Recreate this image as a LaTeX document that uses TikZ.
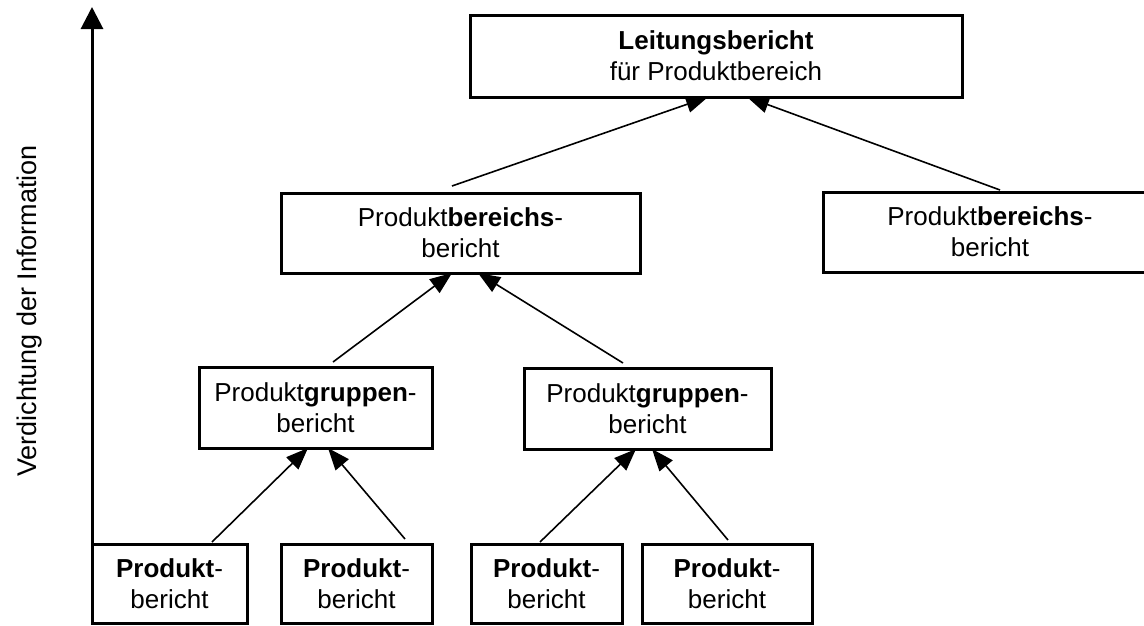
\documentclass[tikz,border=0pt]{standalone}
\usepackage{fontspec}
\setmainfont{Liberation Sans}
\usetikzlibrary{arrows.meta}
\begin{document}
\begin{tikzpicture}[x=1pt,y=-1pt,
  box/.style={draw, line width=3pt, rectangle, align=center, outer sep=0pt, inner sep=0pt,
    font=\fontsize{26}{31}\selectfont},
  conn/.style={line width=1.6pt, -{Triangle[length=22pt,width=17pt]}},
  axisarrow/.style={line width=3pt, -{Triangle[length=22pt,width=22pt]}},
  lbl/.style={rotate=90, font=\fontsize{27}{30}\selectfont}]
\useasboundingbox (0,0) rectangle (1144,625);
\clip (0,0) rectangle (1144,625);
% boxes
\node[box, minimum width=492pt, minimum height=82pt] (top) at (716,56) {\textbf{Leitungsbericht}\\für Produktbereich};
\node[box, minimum width=359pt, minimum height=80pt] (m1) at (460.5,233) {Produkt\textbf{bereichs}-\\bericht};
\node[box, minimum width=334pt, minimum height=80pt] (m2) at (990,232) {Produkt\textbf{bereichs}-\\bericht};
\node[box, minimum width=233pt, minimum height=81pt] (g1) at (315.5,407.5) {Produkt\textbf{gruppen}-\\bericht};
\node[box, minimum width=247pt, minimum height=81pt] (g2) at (647.5,408.5) {Produkt\textbf{gruppen}-\\bericht};
\node[box, minimum width=155pt, minimum height=79pt] (p1) at (169.5,583.5) {\textbf{Produkt}-\\bericht};
\node[box, minimum width=151pt, minimum height=79pt] (p2) at (356.5,583.5) {\textbf{Produkt}-\\bericht};
\node[box, minimum width=151pt, minimum height=79pt] (p3) at (546.5,583.5) {\textbf{Produkt}-\\bericht};
\node[box, minimum width=170pt, minimum height=79pt] (p4) at (727,583.5) {\textbf{Produkt}-\\bericht};
% connectors
\draw[conn] ([shift={(-8.5,-7)}]m1.north) -- ([xshift=-8pt]top.south);
\draw[conn] ([shift={(10,-2)}]m2.north) -- ([xshift=31pt]top.south);
\draw[conn] ([shift={(17.5,-5)}]g1.north) -- ([xshift=-8.5pt]m1.south);
\draw[conn] ([shift={(-24.5,-5)}]g2.north) -- ([xshift=17.5pt]m1.south);
\draw[conn] ([shift={(42.5,-2)}]p1.north) -- ([xshift=-7.5pt]g1.south);
\draw[conn] ([shift={(48.5,-5)}]p2.north) -- ([xshift=12.5pt]g1.south);
\draw[conn] ([shift={(-6.5,-2)}]p3.north) -- ([xshift=-11.5pt]g2.south);
\draw[conn] ([shift={(1,-4)}]p4.north) -- ([xshift=4.5pt]g2.south);
% axis
\coordinate (ax0) at (92,608);
\coordinate (ax1) at (92,7);
\draw[axisarrow] (ax0) -- (ax1);
\node[lbl] (axlabel) at (30,311) {Verdichtung der Information};
\end{tikzpicture}
\end{document}
